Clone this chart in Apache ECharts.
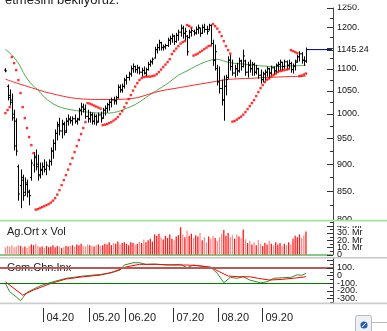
<!DOCTYPE html>
<html>
<head>
<meta charset="utf-8">
<script src="https://cdn.jsdelivr.net/npm/echarts@6/dist/echarts.min.js"></script>
<style>
  html, body { margin: 0; padding: 0; background: #ffffff; }
  #chart { width: 387px; height: 331px; }
</style>
</head>
<body>
<div id="chart"></div>
<script>
// ---- trading calendar (2020) ----
const tradingDays = [
  ['03', [9,10,11,12,13,16,17,18,19,20,23,24,25,26,27,30,31]],
  ['04', [1,2,3,6,7,8,9,10,13,14,15,16,17,20,21,22,24,27,28,29,30]],
  ['05', [4,5,6,7,8,11,12,13,14,15,18,20,21,22,27,28,29]],
  ['06', [1,2,3,4,5,8,9,10,11,12,15,16,17,18,19,22,23,24,25,26,29,30]],
  ['07', [1,2,3,6,7,8,9,10,13,14,16,17,20,21,22,23,24,27,28,29,30]],
  ['08', [4,5,6,7,10,11,12,13,14,17,18,19,20,21,24,25,26,27,28,31]],
  ['09', [1,2,3,4,7,8,9,10,11,14,15,16,17,18,21,22,23,24,25,28,29,30]]
];
const monthLabels = ['04.20', '05.20', '06.20', '07.20', '08.20', '09.20'];

// ---- daily prices ----
const opens = [
  1097,1060,1040,1030,1000,985,895,860,870,848,
  862,848,875,898,912,900,880,888,895,890,
  896,905,925,940,960,975,965,978,965,985,
  988,986,990,985,990,1008,1015,1010,995,990,
  998,985,995,985,998,992,1008,1012,1020,1025,
  1030,1028,1035,1058,1052,1060,1074,1080,1088,1100,
  1105,1098,1102,1092,1096,1090,1098,1110,1116,1125,
  1145,1150,1162,1150,1152,1155,1168,1172,1178,1165,
  1180,1188,1198,1185,1178,1175,1188,1190,1186,1195,
  1198,1185,1200,1195,1195,1205,1160,1120,1100,1070,
  1055,1030,1060,1080,1120,1105,1090,1100,1095,1118,
  1105,1118,1092,1108,1100,1110,1092,1100,1085,1075,
  1088,1092,1100,1090,1102,1095,1108,1110,1115,1105,
  1116,1108,1112,1098,1106,1118,1128,1135,1120,1118
];
const highs = [
  1100,1063,1052,1043,1008,990,898,889,879,874,
  870,852,908,922,927,917,902,902,908,904,
  908,931,947,967,983,991,987,983,991,998,
  994,994,998,991,1012,1023,1021,1019,1008,1004,
  1002,1000,998,1002,1004,1012,1017,1023,1030,1034,
  1036,1038,1063,1063,1065,1078,1085,1092,1106,1111,
  1106,1108,1104,1101,1104,1101,1115,1120,1125,1151,
  1158,1168,1163,1156,1158,1173,1178,1183,1180,1185,
  1193,1206,1203,1198,1180,1193,1198,1193,1201,1206,
  1198,1206,1208,1203,1208,1206,1168,1156,1108,1104,
  1074,1083,1085,1128,1132,1120,1108,1113,1125,1120,
  1144,1120,1115,1120,1115,1113,1108,1101,1097,1092,
  1097,1104,1101,1106,1104,1111,1115,1120,1115,1120,
  1118,1120,1115,1111,1120,1132,1140,1138,1128,1149
];
const lows = [
  1093,1030,1019,987,927,917,834,821,834,843,
  840,826,870,885,889,870,874,880,885,880,
  889,898,911,927,947,957,951,957,962,977,
  981,977,981,979,987,998,1004,991,983,983,
  979,979,977,983,983,991,998,1004,1008,1015,
  1021,1021,1034,1047,1047,1056,1065,1074,1083,1092,
  1092,1090,1088,1083,1088,1083,1097,1106,1111,1125,
  1137,1144,1144,1144,1147,1153,1158,1163,1158,1163,
  1168,1178,1173,1168,1132,1173,1178,1181,1183,1185,
  1178,1185,1188,1183,1193,1156,1108,1097,1063,1045,
  1019,987,1041,1078,1097,1085,1081,1085,1092,1097,
  1104,1085,1081,1092,1085,1085,1088,1078,1067,1070,
  1074,1083,1080,1085,1087,1090,1095,1097,1097,1101,
  1099,1101,1092,1090,1097,1115,1118,1113,1108,1115
];
const closes = [
  1095,1035,1025,992,935,925,845,875,842,865,
  850,842,902,915,895,878,890,895,890,898,
  905,925,940,960,978,965,980,962,985,990,
  986,990,985,988,1008,1015,1010,995,990,998,
  985,995,982,998,990,1008,1012,1020,1025,1030,
  1028,1035,1058,1052,1060,1074,1080,1088,1100,1105,
  1098,1102,1092,1096,1090,1098,1110,1116,1122,1145,
  1150,1162,1150,1152,1155,1168,1172,1178,1165,1180,
  1188,1198,1185,1190,1140,1188,1192,1186,1195,1200,
  1185,1200,1195,1190,1205,1160,1120,1140,1070,1055,
  1030,1060,1075,1120,1105,1090,1100,1095,1118,1105,
  1130,1092,1108,1100,1110,1092,1100,1085,1075,1088,
  1092,1100,1090,1102,1095,1108,1110,1115,1105,1116,
  1108,1112,1098,1106,1115,1128,1135,1120,1118,1145.24
];

// parabolic SAR, one dot per day
const sar = [
  1001.9,1008.3,1014.6,1127.3,1113.1,1096.8,1074.0,1045.0,1014.6,991.4,
  970.8,952.5,936.6,921.0,817.7,818.5,820.3,822.0,823.7,825.5,
  827.2,829.8,833.3,837.7,843.9,852.0,861.0,870.1,879.3,889.5,
  899.9,911.3,922.9,934.7,946.5,958.6,970.8,983.1,1023.2,1022.1,
  1020.0,1017.9,1015.7,1013.6,1011.4,976.9,977.9,979.0,981.0,983.1,
  986.2,989.3,993.5,999.8,1006.1,1014.6,1023.2,1031.9,1040.6,1050.5,
  1059.4,1067.2,1074.0,1078.5,1080.8,1081.9,1081.9,1081.9,1083.1,1084.2,
  1087.6,1092.2,1098.0,1103.8,1109.6,1115.5,1122.5,1134.4,1141.6,1147.6,
  1153.7,1159.8,1163.4,1165.9,1205.8,1203.3,1199.5,1130.8,1133.2,1135.6,
  1139.2,1142.8,1146.4,1150.0,1153.7,1154.9,1208.4,1203.3,1197.0,1188.2,
  1178.2,1165.9,1153.7,1144.0,1135.6,984.1,985.2,988.3,991.4,994.5,
  998.7,1004.0,1010.4,1016.8,1023.2,1029.8,1038.4,1047.2,1056.0,1062.8,
  1069.5,1075.1,1077.4,1081.9,1085.4,1088.8,1092.2,1094.5,1095.7,1096.9,
  1098.0,1099.1,1144.0,1141.6,1139.2,1136.8,1083.1,1084.2,1086.5,1088.8
];

// average volume, in billions (Mr)
const volume = [
  10,12,11,13,10,11,13,12,10,11,9,12,
  14,13,15,12,
  10,11,9,12,10,11,13,10,12,11,9,10,12,11,
  12,13,11,14,13,15,12,11,14,13,12,11,13,14,12,13,
  15,14,17,13,16,15,18,14,16,17,15,13,17,16,14,15,
  18,16,21,17,20,22,18,
  28,26,29,
  24,21,26,23,28,22,20,25,27,
  38,
  28,24,33,26,29,23,27,25,30,
  20,24,17,25,22,26,23,19,24,
  29,34,26,30,24,27,22,28,25,23,35,
  21,16,19,14,17,13,20,15,12,16,14,19,
  15,13,17,14,16,12,15,13,17,14,
  22,26,24,28,23,27,32
];

// moving averages: [day index, value]
const maShort = [
  [2,1146],[5,1132],[8,1113],[11,1085],[14,1065],[17,1052],[20,1036],[23,1025],[26,1017],
  [30,1011],[35,1007],[40,1004],[45,1002],[50,1002],[54,1005],[58,1012],[62,1020],[66,1032],
  [70,1045],[74,1057],[78,1070],[82,1085],[86,1095],[90,1106],[94,1115],[97,1120],[100,1122],
  [103,1118],[107,1113],[112,1111],[117,1108],[122,1106],[127,1105],[132,1106],[137,1107],[141,1108]
];
const maLong = [
  [2,1076],[8,1066],[14,1057],[20,1048],[26,1041],[32,1035],[38,1032],[45,1031],[52,1031],
  [58,1032],[63,1035],[68,1042],[74,1050],[80,1055],[86,1060],[92,1065],[98,1070],[104,1075],
  [110,1077],[116,1078],[122,1080],[128,1081],[134,1082],[141,1083]
];

// commodity channel index: [day index, value]
const cciFast = [
  [2,-104],[4,-214],[7,-281],[9,-330],[10,-293],[12,-223],[15,-179],[19,-127],[24,-84],
  [30,-39],[38,-9],[46,13],[50,26],[55,69],[57,135],[61,165],[64,165],[67,144],[71,148],
  [77,135],[83,144],[86,100],[89,135],[92,122],[97,105],[100,26],[103,-97],[106,-26],
  [109,-39],[112,-18],[115,-61],[120,-97],[123,-84],[126,-39],[130,-31],[134,-26],
  [137,8],[139,0],[141,26]
];
const cciSlow = [
  [2,-84],[10,-258],[15,-192],[23,-105],[30,-48],[38,-18],[46,4],[52,47],[58,112],
  [64,144],[72,144],[80,135],[86,135],[92,125],[97,105],[101,47],[105,-9],[110,-18],
  [115,-18],[119,-39],[124,-61],[130,-52],[136,-35],[141,-18]
];

// axis tick labels
const priceLabels = [800, 850, 900, 950, 1000, 1050, 1100, 1200, 1250];
const volumeLabels = [[0, '0'], [10, '10. Mr'], [20, '20. Mr'], [30, '30. Mr'], [40, '40. Mr']];
const cciLabels = [[100, '100.'], [0, '0'], [-100, '-100.'], [-200, '-200.'], [-300, '-300.']];

// ---- category list: two leading and twelve trailing empty slots ----
const LEAD = 2, TRAIL = 12;
const cats = [];
for (let i = 0; i < LEAD; i++) cats.push('lead' + i);
const monthStart = [];
tradingDays.forEach(([m, days]) => {
  monthStart.push(cats.length);
  days.forEach(d => cats.push((d < 10 ? '0' : '') + d + '.' + m + '.2020'));
});
for (let i = 0; i < TRAIL; i++) cats.push('trail' + i);
const lastIdx = LEAD + closes.length - 1;
const lastClose = closes[closes.length - 1];

const W = 387, H = 331, RIGHT = 54;
const AX = W - RIGHT;
const FONT = '"Liberation Sans", Arial, sans-serif';

const ohlc = opens.map((o, i) => [LEAD + i, o, highs[i], lows[i], closes[i]]);

const chart = echarts.init(document.getElementById('chart'), null, { renderer: 'canvas', width: W, height: H });

const hiddenX = (gi, line) => ({
  type: 'category', gridIndex: gi, data: cats, boundaryGap: true,
  axisLine: line ? { show: true, onZero: false, lineStyle: { color: '#62b862', width: 1.5 } } : { show: false },
  axisTick: { show: false }, axisLabel: { show: false }, splitLine: { show: false }
});
const rightY = (gi, extra) => Object.assign({
  gridIndex: gi, position: 'right',
  axisLine: { show: true, lineStyle: { color: '#444', width: 1 } },
  axisTick: { show: false }, axisLabel: { show: false }, splitLine: { show: false }
}, extra);

chart.setOption({
  animation: false,
  backgroundColor: '#ffffff',
  grid: [
    { left: 0, right: RIGHT, top: 8, height: 212 },
    { left: 0, right: RIGHT, top: 221.5, height: 33 },
    { left: 0, right: RIGHT, top: 258, height: 45 }
  ],
  xAxis: [hiddenX(0, false), hiddenX(1, true), hiddenX(2, false)],
  yAxis: [
    rightY(0, { type: 'log', logBase: 10, min: 800, max: 1250 }),
    rightY(1, { type: 'value', min: 0, max: 46 }),
    rightY(2, { type: 'value', min: -361, max: 227 })
  ],
  series: [
    {
      type: 'line', name: 'MA short', xAxisIndex: 0, yAxisIndex: 0, data: maShort,
      showSymbol: false, smooth: 0.3, z: 1,
      lineStyle: { color: '#4fae4f', width: 1 }
    },
    {
      type: 'line', name: 'MA long', xAxisIndex: 0, yAxisIndex: 0, data: maLong,
      showSymbol: false, smooth: 0.3, z: 1,
      lineStyle: { color: '#ff2a2a', width: 1 }
    },
    {
      type: 'custom', name: 'OHLC', xAxisIndex: 0, yAxisIndex: 0, data: ohlc, z: 3,
      encode: { x: 0, y: [1, 2, 3, 4] },
      renderItem: function (params, api) {
        const k = api.value(0);
        const pH = api.coord([k, api.value(2)]);
        const pL = api.coord([k, api.value(3)]);
        const pO = api.coord([k, api.value(1)]);
        const pC = api.coord([k, api.value(4)]);
        const x = Math.round(pH[0]) + 0.5;
        const st = { stroke: '#000', lineWidth: 1 };
        return {
          type: 'group',
          children: [
            { type: 'line', shape: { x1: x, y1: pH[1] - 0.5, x2: x, y2: pL[1] + 0.5 }, style: st },
            { type: 'line', shape: { x1: x - 1.5, y1: pO[1], x2: x, y2: pO[1] }, style: st },
            { type: 'line', shape: { x1: x, y1: pC[1], x2: x + 1.5, y2: pC[1] }, style: st }
          ]
        };
      }
    },
    {
      type: 'scatter', name: 'SAR', xAxisIndex: 0, yAxisIndex: 0, z: 4,
      data: sar.map((v, i) => [LEAD + i, v]),
      symbol: 'rect', symbolSize: 2.4,
      itemStyle: { color: '#ff0000' }
    },
    {
      type: 'line', name: 'Last', xAxisIndex: 0, yAxisIndex: 0, z: 4,
      data: [[lastIdx, lastClose], [cats.length - 1, lastClose]],
      showSymbol: false, lineStyle: { color: '#000080', width: 1 }
    },
    {
      type: 'bar', name: 'Volume', xAxisIndex: 1, yAxisIndex: 1, barWidth: 1.3,
      data: volume.map((v, i) => ({
        value: [LEAD + i, v],
        itemStyle: { color: closes[i] >= opens[i] ? '#ff1a1a' : '#ff8a8a' }
      }))
    },
    {
      type: 'line', name: 'CCI', xAxisIndex: 2, yAxisIndex: 2, data: cciFast,
      showSymbol: false, z: 3, lineStyle: { color: '#2f8f2f', width: 1 },
      markLine: {
        silent: true, symbol: 'none', label: { show: false },
        data: [
          { yAxis: 100, lineStyle: { color: '#b85a5a', width: 2, type: 'solid' } },
          { yAxis: -100, lineStyle: { color: '#008000', width: 1.2, type: 'solid' } }
        ]
      }
    },
    {
      type: 'line', name: 'CCI avg', xAxisIndex: 2, yAxisIndex: 2, data: cciSlow,
      showSymbol: false, z: 4, lineStyle: { color: '#ff0000', width: 1 }
    }
  ]
});

// ---- axis ticks, labels, panel frames ----
const els = [];
const crisp = y => Math.round(y) + 0.5;
function tick(y, len) {
  els.push({ type: 'line', z: 5, shape: { x1: AX - len, y1: crisp(y), x2: AX, y2: crisp(y) },
             style: { stroke: '#333', lineWidth: 1 } });
}
function label(y, text, size) {
  els.push({ type: 'text', z: 5, x: AX + 4, y: y,
             style: { text: text, font: (size || 9) + 'px ' + FONT, fill: '#111',
                      align: 'left', verticalAlign: 'middle', textAlign: 'left', textVerticalAlign: 'middle' } });
}
const py = v => chart.convertToPixel({ yAxisIndex: 0 }, v);
const vy = v => chart.convertToPixel({ yAxisIndex: 1 }, v);
const cy = v => chart.convertToPixel({ yAxisIndex: 2 }, v);

for (let v = 800; v <= 1250; v += 25) tick(py(v), v % 50 === 0 ? 6 : 3);
priceLabels.forEach(v => label(py(v), v + '.'));
tick(py(lastClose), 6);
label(py(lastClose), lastClose.toFixed(2));

for (let v = 0; v <= 45; v += 5) tick(vy(v), v % 10 === 0 ? 6 : 3);
volumeLabels.forEach(([v, t]) => label(vy(v), t));

for (let v = -350; v <= 200; v += 50) tick(cy(v), v % 100 === 0 ? 6 : 3);
cciLabels.forEach(([v, t]) => label(cy(v), t));

// month ticks along the bottom
monthStart.slice(1).forEach((idx, i) => {
  const x = Math.round(chart.convertToPixel({ xAxisIndex: 2 }, idx)) + 1.5;
  els.push({ type: 'line', z: 5, shape: { x1: x, y1: 308, x2: x, y2: 322 }, style: { stroke: '#333', lineWidth: 1 } });
  els.push({ type: 'text', z: 5, x: x + 3, y: 318,
             style: { text: monthLabels[i], font: '11px ' + FONT, fill: '#222',
                      align: 'left', verticalAlign: 'middle', textAlign: 'left', textVerticalAlign: 'middle' } });
});

// panel captions
[['Ag.Ort x Vol', 232], ['Com.Chn.Inx', 268]].forEach(([t, y]) => {
  els.push({ type: 'text', z: 1, x: 7, y: y,
             style: { text: t, font: '11px ' + FONT, fill: '#222',
                      align: 'left', verticalAlign: 'middle', textAlign: 'left', textVerticalAlign: 'middle' } });
});

// cover strips between panels
els.push({ type: 'rect', z: 10, shape: { x: AX + 1, y: 220, width: W - AX, height: 6 }, style: { fill: '#ffffff' } });
els.push({ type: 'rect', z: 10, shape: { x: 0, y: -10, width: W, height: 14.5 }, style: { fill: '#ffffff' } });
els.push({ type: 'text', z: 11, x: 5, y: 7,
           style: { text: 'etmesini bekliyoruz.', font: '13px ' + FONT, fill: '#222',
                    align: 'left', verticalAlign: 'bottom', textAlign: 'left', textVerticalAlign: 'bottom' } });

// separators
els.push({ type: 'rect', z: 12, shape: { x: 0, y: 219.8, width: W, height: 1.6 }, style: { fill: '#a6dfa6' } });
els.push({ type: 'rect', z: 12, shape: { x: 0, y: 256.9, width: W, height: 1.6 }, style: { fill: '#c8c8c8' } });
els.push({ type: 'rect', z: 12, shape: { x: 0, y: 302.4, width: W, height: 1.8 }, style: { fill: '#cdcdcd' } });

// small tool button, bottom right
els.push({ type: 'rect', z: 12, shape: { x: 355.5, y: 315.5, width: 16, height: 20, r: 2 }, style: { fill: '#eef0f3', stroke: '#b6bac2', lineWidth: 1 } });
els.push({ type: 'line', z: 12, shape: { x1: 372, y1: 322.5, x2: 387, y2: 322.5 }, style: { stroke: '#b6bac2', lineWidth: 1 } });
els.push({ type: 'circle', z: 13, shape: { cx: 364, cy: 325, r: 3.6 }, style: { fill: '#2c5fb3' } });
els.push({ type: 'line', z: 14, shape: { x1: 362, y1: 327, x2: 366, y2: 323 }, style: { stroke: '#ffffff', lineWidth: 1 } });

chart.setOption({ graphic: { elements: els } });
</script>
</body>
</html>
